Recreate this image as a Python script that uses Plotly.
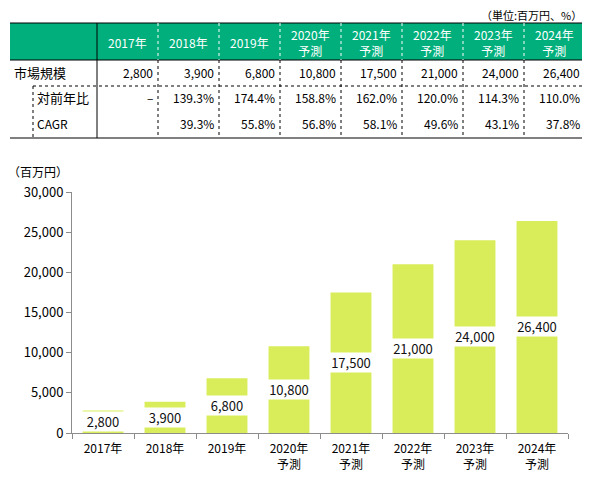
import plotly.graph_objects as go

# ---------------- data ----------------
categories = ["2017年", "2018年", "2019年", "2020年<br>予測", "2021年<br>予測",
              "2022年<br>予測", "2023年<br>予測", "2024年<br>予測"]
market = [2800, 3900, 6800, 10800, 17500, 21000, 24000, 26400]
yoy = ["–", "139.3%", "174.4%", "158.8%", "162.0%", "120.0%", "114.3%", "110.0%"]
cagr = ["", "39.3%", "55.8%", "56.8%", "58.1%", "49.6%", "43.1%", "37.8%"]
row_labels = ["市場規模", "対前年比", "CAGR"]
unit_note = "（単位:百万円、%）"
y_unit = "（百万円）"
y_ticks = [0, 5000, 10000, 15000, 20000, 25000, 30000]

OFF = 8  # default page body margin
W, H = 590 - OFF, 480 - OFF
FONT = "Noto Sans CJK JP"
GREEN = "#00AF7C"
BAR = "#D9ED5B"
AX = "#8c8c8c"


def px(x):
    return (x - OFF) / W


def py(y):
    return 1 - (y - OFF) / H


fig = go.Figure()
fig.add_trace(go.Bar(x=categories, y=market, marker=dict(color=BAR, line=dict(width=0)),
                     hoverinfo="skip"))

annotations = []
shapes = []

# value labels (white boxes at bar middle)
for c, v in zip(categories, market):
    annotations.append(dict(x=c, y=v / 2, xref="x", yref="y", text=f"{v:,}",
                            showarrow=False, bgcolor="white", width=40, height=17,
                            borderpad=1, font=dict(family=FONT, size=13, color="#111")))

# ---------------- table ----------------
tx0, tx1 = 10, 585
col0 = 97
cw = 61
y_top, y_hdr, y_r1, y_bot = 23, 60, 86, 138

shapes.append(dict(type="rect", xref="paper", yref="paper", x0=px(tx0), x1=px(tx1),
                   y0=py(y_hdr), y1=py(y_top), fillcolor=GREEN, line=dict(width=0), layer="below"))


def hline(y, x0, x1, dash="solid", color="black"):
    shapes.append(dict(type="line", xref="paper", yref="paper", x0=px(x0), x1=px(x1),
                       y0=py(y), y1=py(y), line=dict(color=color, width=1, dash=dash)))


def vline(x, y0, y1, dash="solid", color="black"):
    shapes.append(dict(type="line", xref="paper", yref="paper", x0=px(x), x1=px(x),
                       y0=py(y0), y1=py(y1), line=dict(color=color, width=1, dash=dash)))


hline(y_top, tx0, tx1)
hline(y_hdr, tx0, tx1)
hline(y_r1, 33, tx1, dash="dot")
hline(y_bot, tx0, tx1)
vline(col0, y_top, y_bot)
vline(33, y_r1, y_bot, dash="dot")
for k in range(1, len(categories)):
    xx = col0 + cw * k
    vline(xx, y_top, y_hdr, dash="dot", color="white")
    vline(xx, y_hdr, y_bot, dash="dot")

# header texts
for i, c in enumerate(categories):
    cx = col0 + cw * i + cw / 2
    annotations.append(dict(x=px(cx), y=py(42), xref="paper", yref="paper", text=c,
                            showarrow=False, xanchor="center", yanchor="middle",
                            font=dict(family=FONT, size=12, color="white")))

# body rows
row_y = [73, 98, 123]
row_x = [12, 35, 35]
for lab, ry, rx in zip(row_labels, row_y, row_x):
    annotations.append(dict(x=px(rx), y=py(ry), xref="paper", yref="paper", text=lab,
                            showarrow=False, xanchor="left", yanchor="middle",
                            font=dict(family=FONT, size=13 if lab != "CAGR" else 12, color="black")))
rows = [[f"{v:,}" for v in market], yoy, cagr]
for vals, ry in zip(rows, row_y):
    for i, t in enumerate(vals):
        if not t:
            continue
        rx = col0 + cw * (i + 1) - 3
        annotations.append(dict(x=px(rx), y=py(ry), xref="paper", yref="paper", text=t,
                                showarrow=False, xanchor="right", yanchor="middle",
                                font=dict(family=FONT, size=12, color="black")))

annotations.append(dict(x=px(584), y=py(15), xref="paper", yref="paper", text=unit_note,
                        showarrow=False, xanchor="right", yanchor="middle",
                        font=dict(family=FONT, size=11, color="black")))
annotations.append(dict(x=px(6), y=py(172), xref="paper", yref="paper", text=y_unit,
                        showarrow=False, xanchor="left", yanchor="middle",
                        font=dict(family=FONT, size=12, color="black")))

fig.update_layout(
    width=W, height=H,
    margin=dict(l=0, r=0, t=0, b=0),
    paper_bgcolor="white", plot_bgcolor="white",
    showlegend=False, bargap=0.34,
    annotations=annotations, shapes=shapes,
    font=dict(family=FONT, size=12, color="black"),
    xaxis=dict(domain=[px(72), px(568)], automargin=False, showline=True, linecolor=AX,
               ticks="outside", tickson="boundaries", ticklen=5, tickcolor=AX,
               ticklabelstandoff=5,
               showgrid=False, tickfont=dict(family=FONT, size=12, color="black")),
    yaxis=dict(domain=[py(433), py(192)], automargin=False, range=[0, 30000],
               tickvals=y_ticks, ticktext=[f"{t:,}" for t in y_ticks],
               showline=True, linecolor=AX, ticks="outside", ticklen=5, tickcolor=AX,
               showgrid=False, zeroline=False,
               tickfont=dict(family=FONT, size=13, color="black")),
)

fig.write_html("out.html")
